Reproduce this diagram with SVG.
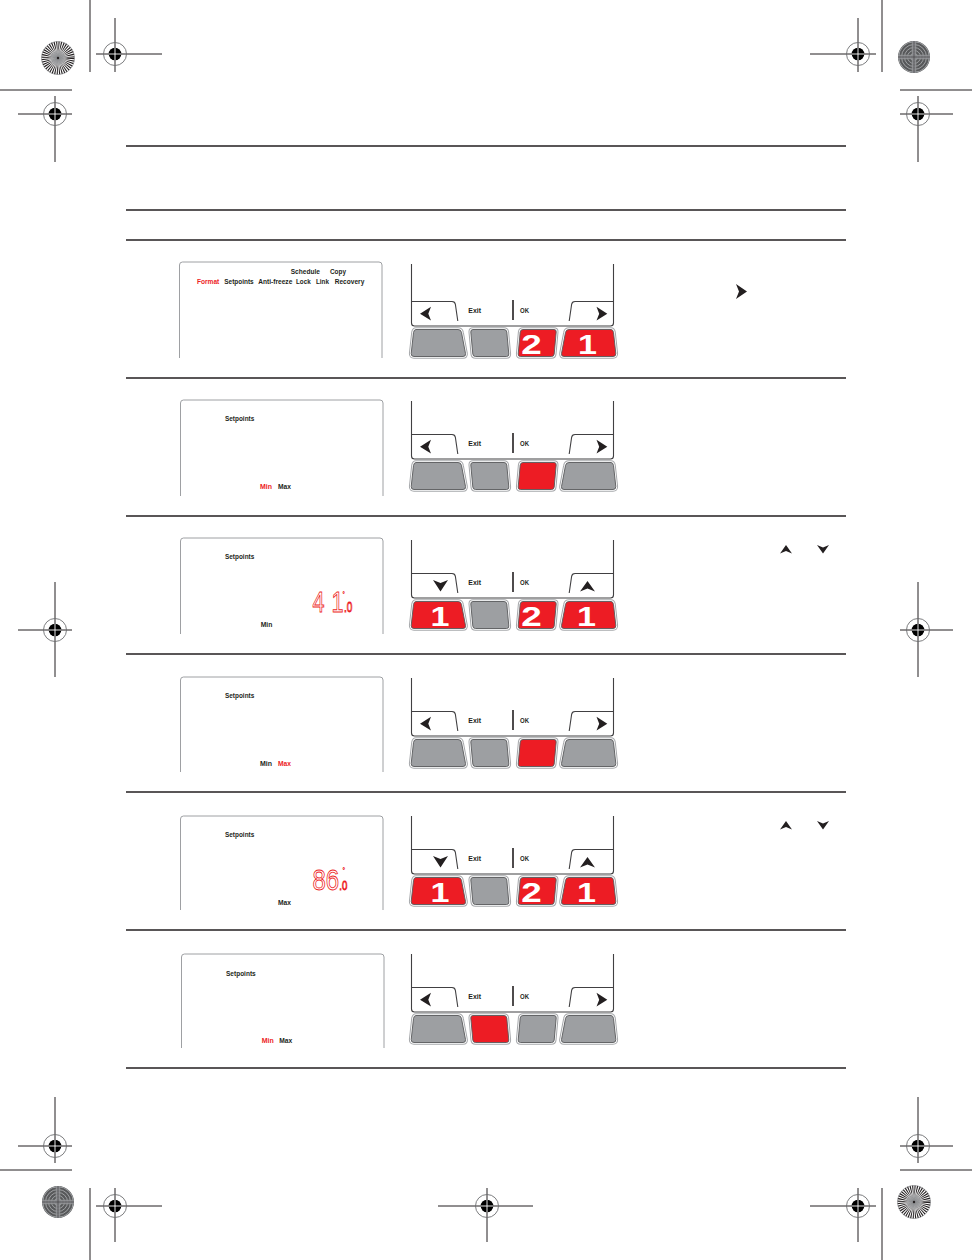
<svg xmlns="http://www.w3.org/2000/svg" width="972" height="1260" viewBox="0 0 972 1260">
<defs>
<style>
.rule{stroke:#231f20;stroke-width:1.3;fill:none}
.trim{stroke:#231f20;stroke-width:1;fill:none}
.disp{fill:none;stroke:#939598;stroke-width:0.9}
.frame{fill:none;stroke:#414042;stroke-width:1.1}
.t{font-family:"Liberation Sans",Arial,sans-serif;font-weight:bold;font-size:7.5px;fill:#231f20}
.red{fill:#ed1c24}
.num{font-family:"Liberation Sans",Arial,sans-serif;font-weight:bold;font-size:28px;fill:#fff;text-anchor:middle}
.lcd{font-family:"Liberation Sans",Arial,sans-serif;fill:#fff;stroke:#ed1c24;stroke-width:0.9}
.arw{fill:#231f20}
.o1{fill:none;stroke:#a7a9ac;stroke-width:4.6;stroke-linejoin:round}
.o2{fill:none;stroke:#fff;stroke-width:2.6;stroke-linejoin:round}
.o3{stroke:#58595b;stroke-width:0.9}
.g{fill:#9d9fa2}
.rd{fill:#ed1c24}
</style>
<radialGradient id="rg">
<stop offset="0" stop-color="#808285" stop-opacity="1"/>
<stop offset="0.6" stop-color="#a7a9ac" stop-opacity="0.7"/>
<stop offset="1" stop-color="#ffffff" stop-opacity="0"/>
</radialGradient>
<clipPath id="rc"><circle r="16"/></clipPath>
<g id="rosA">
<circle r="16.5" fill="#fff"/>
<circle r="8.25" fill="none" stroke="#231f20" stroke-width="16.5" stroke-dasharray="0.648 0.648"/>
<circle r="10" fill="url(#rg)"/>
<circle r="16.5" fill="none" stroke="#808285" stroke-width="0.6"/>
<circle r="1.2" fill="#231f20"/>
</g>
<g id="rosB">
<circle r="16" fill="#58595b"/>
<g fill="none" stroke="#a7a9ac" stroke-width="0.9"><circle r="3.5"/><circle r="6.5"/><circle r="9.5"/><circle r="12.5"/><circle r="15.3"/></g>
<g clip-path="url(#rc)" fill="#939598" opacity="0.85"><rect x="-16" y="-2.2" width="32" height="4.4"/><rect x="-2.2" y="-16" width="4.4" height="32"/></g>
<path d="M-16,0H16M0,-16V16" stroke="#414042" stroke-width="0.7"/>
</g>
<g id="reg">
<circle r="11.5" fill="none" stroke="#6d6e71" stroke-width="0.9"/>
<circle r="6.3" fill="#000"/>
<path d="M-6.3,0H6.3M0,-6.3V6.3" stroke="#fff" stroke-width="0.9"/>
</g>
<path id="pA" d="M416,0 L458,0 Q461,0 461.5,3 L465.5,24 Q466,27 463,27 L414,27 Q411,27 411.2,24 L413.5,3 Q414,0 416,0 Z"/>
<path id="pB" d="M473,0 L504,0 Q506.5,0 506.8,2.5 L508.8,24.5 Q509,27 506.5,27 L475.5,27 Q473,27 472.8,24.5 L470.8,2.5 Q470.6,0 473,0 Z"/>
<path id="pC" d="M554,0 L523,0 Q520.5,0 520.2,2.5 L518.2,24.5 Q518,27 520.5,27 L551.5,27 Q554,27 554.2,24.5 L556.2,2.5 Q556.4,0 554,0 Z"/>
<path id="pD" d="M611,0 L569,0 Q566,0 565.5,3 L561.5,24 Q561,27 564,27 L613,27 Q616,27 615.8,24 L613.5,3 Q613,0 611,0 Z"/>
<g id="bA"><use href="#pA" class="o1"/><use href="#pA" class="o2"/><use href="#pA" class="o3"/></g>
<g id="bB"><use href="#pB" class="o1"/><use href="#pB" class="o2"/><use href="#pB" class="o3"/></g>
<g id="bC"><use href="#pC" class="o1"/><use href="#pC" class="o2"/><use href="#pC" class="o3"/></g>
<g id="bD"><use href="#pD" class="o1"/><use href="#pD" class="o2"/><use href="#pD" class="o3"/></g>
<g id="pnl">
<path class="frame" d="M411.5,268 V323 Q411.5,326 414.5,326 H610.5 Q613.5,326 613.5,323 V268"/>
<path class="frame" d="M411.5,301.5 H452 Q455,301.5 455.4,304.5 L457.8,321"/>
<path class="frame" d="M613.5,301.5 H575 Q572,301.5 571.6,304.5 L569.2,321"/>
<path d="M513,300 V320" stroke="#231f20" stroke-width="1.6"/>
<text class="t" x="468.3" y="312.5" textLength="12.7" lengthAdjust="spacingAndGlyphs">Exit</text>
<text class="t" x="520" y="312.5" textLength="9" lengthAdjust="spacingAndGlyphs">OK</text>
</g>
<g id="arLR" class="arw">
<path d="M420,313.7 L431,306.8 L428.3,313.7 L431,320.6 Z"/>
<path d="M607.3,313.7 L596.5,306.8 L599.2,313.7 L596.5,320.6 Z"/>
</g>
<g id="arUD" class="arw">
<path d="M440.5,319.5 L433,308 L440.5,311 L448,308 Z"/>
<path d="M587.5,309 L595,319.5 L587.5,316.5 L580,319.5 Z"/>
</g>
</defs>

<rect width="972" height="1260" fill="#fff"/>

<g id="printmarks">
<path class="trim" d="M90,0V72M0,90H72M882,0V72M900,90H972M0,1170H72M90,1188V1260M900,1170H972M882,1188V1260"/>
<path class="trim" d="M96,54H162M115,18V72 M810,54H876M858,18V72 M18,114H72M55,96V162 M900,114H953M918,96V162 M18,630H72M55,582V677 M900,630H953M918,582V677 M18,1146H72M55,1097V1163 M900,1146H953M918,1097V1163 M96,1206H162M115,1188V1242 M438,1206H533M487,1188V1242 M810,1206H876M858,1188V1242"/>
<use href="#reg" x="115" y="54"/>
<use href="#reg" x="858" y="54"/>
<use href="#reg" x="55" y="114"/>
<use href="#reg" x="918" y="114"/>
<use href="#reg" x="55" y="630"/>
<use href="#reg" x="918" y="630"/>
<use href="#reg" x="55" y="1146"/>
<use href="#reg" x="918" y="1146"/>
<use href="#reg" x="115" y="1206"/>
<use href="#reg" x="487" y="1206"/>
<use href="#reg" x="858" y="1206"/>
<use href="#rosA" x="58" y="58"/>
<use href="#rosB" x="914" y="57"/>
<use href="#rosB" x="58" y="1202"/>
<use href="#rosA" x="914" y="1202"/>
</g>

<g id="rules">
<path class="rule" d="M126,146H846M126,210H846M126,240H846M126,378H846M126,516H846M126,654H846M126,792H846M126,930H846M126,1068H846"/>
</g>

<g id="row1">
<g id="display1">
<path class="disp" d="M179.5,358 V265 Q179.5,262 182.5,262 H379 Q382,262 382,265 V358"/>
<text class="t" x="290.7" y="273.5" textLength="29.3" lengthAdjust="spacingAndGlyphs">Schedule</text>
<text class="t" x="330" y="273.5" textLength="16" lengthAdjust="spacingAndGlyphs">Copy</text>
<text class="t red" x="197" y="283.5" textLength="22.3" lengthAdjust="spacingAndGlyphs">Format</text>
<text class="t" x="224.3" y="283.5" textLength="29.4" lengthAdjust="spacingAndGlyphs">Setpoints</text>
<text class="t" x="258.3" y="283.5" textLength="34" lengthAdjust="spacingAndGlyphs">Anti-freeze</text>
<text class="t" x="296" y="283.5" textLength="14.7" lengthAdjust="spacingAndGlyphs">Lock</text>
<text class="t" x="316" y="283.5" textLength="13" lengthAdjust="spacingAndGlyphs">Link</text>
<text class="t" x="334.7" y="283.5" textLength="29.6" lengthAdjust="spacingAndGlyphs">Recovery</text>
</g>
<g id="panel1">
<path class="frame" d="M411.5,264V268M613.5,264V268"/>
<use href="#pnl"/>
<use href="#arLR"/>
<use href="#bA" class="g" y="329.5"/>
<use href="#bB" class="g" y="329.5"/>
<use href="#bC" class="rd" y="329.5"/>
<use href="#bD" class="rd" y="329.5"/>
<text class="num" x="531.5" y="353.5" textLength="20.5" lengthAdjust="spacingAndGlyphs">2</text>
<text class="num" x="587.5" y="353.5" textLength="19" lengthAdjust="spacingAndGlyphs">1</text>
</g>
<path id="note1-arrow" class="arw" d="M747,291.5 L736,284 L739,291.5 L736,299 Z"/>
</g>

<g id="row2">
<g id="display2">
<path class="disp" d="M180.5,496 V403 Q180.5,400 183.5,400 H380 Q383,400 383,403 V496"/>
<text class="t" x="225" y="421" textLength="29.3" lengthAdjust="spacingAndGlyphs">Setpoints</text>
<text class="t red" x="260" y="489" textLength="12" lengthAdjust="spacingAndGlyphs">Min</text>
<text class="t" x="278" y="489" textLength="13" lengthAdjust="spacingAndGlyphs">Max</text>
</g>
<g id="panel2">
<use href="#pnl" y="133"/>
<use href="#arLR" y="133"/>
<use href="#bA" class="g" y="462.5"/>
<use href="#bB" class="g" y="462.5"/>
<use href="#bC" class="rd" y="462.5"/>
<use href="#bD" class="g" y="462.5"/>
</g>
</g>

<g id="row3">
<g id="display3">
<path class="disp" d="M180.5,634 V541 Q180.5,538 183.5,538 H380 Q383,538 383,541 V634"/>
<text class="lcd" transform="translate(312.5,611.7) scale(0.72,1)" font-size="30" x="0" y="0">4<tspan x="26.5">1</tspan><tspan x="43.8" font-size="14">.0</tspan><tspan x="41.7" y="-15" font-size="8" stroke-width="0.5">°</tspan></text>
<text class="t" x="225" y="559" textLength="29.3" lengthAdjust="spacingAndGlyphs">Setpoints</text>
<text class="t" x="260.7" y="627" textLength="11.6" lengthAdjust="spacingAndGlyphs">Min</text>
</g>
<g id="panel3">
<use href="#pnl" y="272"/>
<use href="#arUD" y="272"/>
<use href="#bA" class="rd" y="601.5"/>
<use href="#bB" class="g" y="601.5"/>
<use href="#bC" class="rd" y="601.5"/>
<use href="#bD" class="rd" y="601.5"/>
<text class="num" x="440" y="625.5" textLength="19" lengthAdjust="spacingAndGlyphs">1</text>
<text class="num" x="531.5" y="625.5" textLength="20.5" lengthAdjust="spacingAndGlyphs">2</text>
<text class="num" x="586.5" y="625.5" textLength="19" lengthAdjust="spacingAndGlyphs">1</text>
</g>
<path class="arw" d="M786,545 L792,553.5 L786,551 L780,553.5 Z"/>
<path class="arw" d="M823,553.5 L817,545 L823,547.5 L829,545 Z"/>
</g>

<g id="row4">
<g id="display4">
<path class="disp" d="M180.5,772 V680 Q180.5,677 183.5,677 H380 Q383,677 383,680 V772"/>
<text class="t" x="225" y="698" textLength="29.3" lengthAdjust="spacingAndGlyphs">Setpoints</text>
<text class="t" x="260" y="766" textLength="12" lengthAdjust="spacingAndGlyphs">Min</text>
<text class="t red" x="278" y="766" textLength="13" lengthAdjust="spacingAndGlyphs">Max</text>
</g>
<g id="panel4">
<use href="#pnl" y="410"/>
<use href="#arLR" y="410"/>
<use href="#bA" class="g" y="739.5"/>
<use href="#bB" class="g" y="739.5"/>
<use href="#bC" class="rd" y="739.5"/>
<use href="#bD" class="g" y="739.5"/>
</g>
</g>

<g id="row5">
<g id="display5">
<path class="disp" d="M180.5,910 V819 Q180.5,816 183.5,816 H380 Q383,816 383,819 V910"/>
<text class="t" x="225" y="837" textLength="29.3" lengthAdjust="spacingAndGlyphs">Setpoints</text>
<text class="lcd" transform="translate(312.5,890) scale(0.8,1)" font-size="30" x="0" y="0">86<tspan x="33.4" font-size="12">.0</tspan><tspan x="37.5" y="-17" font-size="8" stroke-width="0.5">°</tspan></text>
<text class="t" x="278" y="905" textLength="13" lengthAdjust="spacingAndGlyphs">Max</text>
</g>
<g id="panel5">
<use href="#pnl" y="548"/>
<use href="#arUD" y="548"/>
<use href="#bA" class="rd" y="877.5"/>
<use href="#bB" class="g" y="877.5"/>
<use href="#bC" class="rd" y="877.5"/>
<use href="#bD" class="rd" y="877.5"/>
<text class="num" x="440" y="901.5" textLength="19" lengthAdjust="spacingAndGlyphs">1</text>
<text class="num" x="531.5" y="901.5" textLength="20.5" lengthAdjust="spacingAndGlyphs">2</text>
<text class="num" x="586.5" y="901.5" textLength="19" lengthAdjust="spacingAndGlyphs">1</text>
</g>
<path class="arw" d="M786,821 L792,829.5 L786,827 L780,829.5 Z"/>
<path class="arw" d="M823,829.5 L817,821 L823,823.5 L829,821 Z"/>
</g>

<g id="row6">
<g id="display6">
<path class="disp" d="M181.5,1048 V957 Q181.5,954 184.5,954 H381 Q384,954 384,957 V1048"/>
<text class="t" x="226" y="976" textLength="29.7" lengthAdjust="spacingAndGlyphs">Setpoints</text>
<text class="t red" x="261.7" y="1043" textLength="12" lengthAdjust="spacingAndGlyphs">Min</text>
<text class="t" x="279.3" y="1043" textLength="13" lengthAdjust="spacingAndGlyphs">Max</text>
</g>
<g id="panel6">
<use href="#pnl" y="686"/>
<use href="#arLR" y="686"/>
<use href="#bA" class="g" y="1015.5"/>
<use href="#bB" class="rd" y="1015.5"/>
<use href="#bC" class="g" y="1015.5"/>
<use href="#bD" class="g" y="1015.5"/>
</g>
</g>
<g id="connectors"/>
</svg>
